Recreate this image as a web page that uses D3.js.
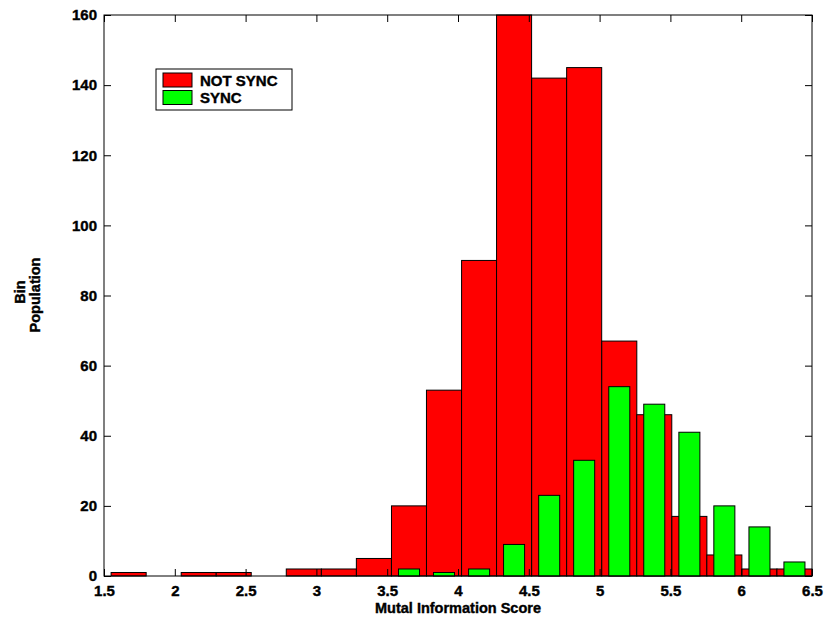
<!DOCTYPE html>
<html>
<head>
<meta charset="utf-8">
<script src="https://cdn.jsdelivr.net/npm/d3@7"></script>
<style>
  body { margin: 0; background: #fff; }
  text { font-family: "Liberation Sans", Arial, sans-serif; font-weight: bold; stroke: #000; stroke-width: 0.4px; }
</style>
</head>
<body>
<div id="chart"></div>
<script>
// bin centres of the histogram (20 bins, width 0.2475)
const binCenters = [1.674, 1.921, 2.169, 2.416, 2.664, 2.911, 3.159, 3.406, 3.654, 3.901,
                    4.149, 4.396, 4.644, 4.891, 5.139, 5.386, 5.634, 5.881, 6.129, 6.376];
const binWidth = 0.2475;
const notSync = [1, 0, 1, 1, 0, 2, 2, 5, 20, 53, 90, 160, 142, 145, 67, 46, 17, 6, 2, 2];
const sync    = [0, 0, 0, 0, 0, 0, 0, 0, 2, 1, 2, 9, 23, 33, 54, 49, 41, 20, 14, 4];
const xTicks = [1.5, 2, 2.5, 3, 3.5, 4, 4.5, 5, 5.5, 6, 6.5];
const yTicks = [0, 20, 40, 60, 80, 100, 120, 140, 160];
const legendLabels = ['NOT SYNC', 'SYNC'];
const colors = ['#ff0000', '#00ff00'];

const width = 824;
const height = 621;
const plotLeft = 104, plotRight = 812, plotTop = 15, plotBottom = 576;

const svg = d3.select('#chart')
    .append('svg')
    .attr('width', width)
    .attr('height', height);

const x = d3.scaleLinear().domain([1.5, 6.5]).range([plotLeft, plotRight]);
const y = d3.scaleLinear().domain([0, 160]).range([plotBottom, plotTop]);

// red bars fill the whole bin
svg.append('g').selectAll('rect')
    .data(notSync)
    .join('rect')
    .attr('x', (d, i) => x(binCenters[i] - binWidth / 2))
    .attr('width', x(binWidth) - x(0))
    .attr('y', d => y(d))
    .attr('height', d => y(0) - y(d))
    .attr('fill', colors[0])
    .attr('stroke', '#000')
    .attr('stroke-width', 1);

// green bars are narrower, drawn on top
const greenW = binWidth * 0.6;
svg.append('g').selectAll('rect')
    .data(sync)
    .join('rect')
    .attr('x', (d, i) => x(binCenters[i] - greenW / 2))
    .attr('width', x(greenW) - x(0))
    .attr('y', d => y(d))
    .attr('height', d => y(0) - y(d))
    .attr('fill', colors[1])
    .attr('stroke', '#000')
    .attr('stroke-width', 1)
    .attr('display', d => d > 0 ? null : 'none');

// axes, ticks pointing inward on all four sides
svg.append('g')
    .attr('transform', `translate(0,${plotBottom})`)
    .call(d3.axisBottom(x).tickValues(xTicks).tickFormat(d3.format('')).tickSizeInner(-7).tickSizeOuter(0).tickPadding(9.5));
svg.append('g')
    .attr('transform', `translate(0,${plotTop})`)
    .call(d3.axisTop(x).tickValues(xTicks).tickFormat('').tickSizeInner(-7).tickSizeOuter(0));
svg.append('g')
    .attr('transform', `translate(${plotLeft},0)`)
    .call(d3.axisLeft(y).tickValues(yTicks).tickSizeInner(-7).tickSizeOuter(0).tickPadding(7));
svg.append('g')
    .attr('transform', `translate(${plotRight},0)`)
    .call(d3.axisRight(y).tickValues(yTicks).tickFormat('').tickSizeInner(-7).tickSizeOuter(0));

svg.selectAll('.domain').remove();
svg.selectAll('.tick line').attr('stroke', '#000');
svg.selectAll('.tick text')
    .attr('fill', '#000')
    .style('font-size', '15px')
    .style('font-family', '"Liberation Sans", Arial, sans-serif')
    .style('font-weight', 'bold');

svg.append('rect')
    .attr('x', plotLeft).attr('y', plotTop)
    .attr('width', plotRight - plotLeft).attr('height', plotBottom - plotTop)
    .attr('fill', 'none')
    .attr('stroke', '#000')
    .attr('stroke-width', 1);

// axis labels
svg.append('text')
    .attr('x', 458).attr('y', 613)
    .attr('text-anchor', 'middle')
    .style('font-size', '14.5px')
    .text('Mutal Information Score');

svg.append('text')
    .attr('transform', 'translate(25,292) rotate(-90)')
    .attr('text-anchor', 'middle')
    .style('font-size', '14.5px')
    .text('Bin');
svg.append('text')
    .attr('transform', 'translate(40,295) rotate(-90)')
    .attr('text-anchor', 'middle')
    .style('font-size', '14.5px')
    .text('Population');

// legend
const legend = svg.append('g');
legend.append('rect')
    .attr('x', 156).attr('y', 69)
    .attr('width', 136).attr('height', 41)
    .attr('fill', '#fff')
    .attr('stroke', '#000');
legendLabels.forEach((label, i) => {
    legend.append('rect')
        .attr('x', 163).attr('y', 73 + i * 17.5)
        .attr('width', 29).attr('height', 14)
        .attr('fill', colors[i])
        .attr('stroke', '#000');
    legend.append('text')
        .attr('x', 200).attr('y', 86 + i * 17)
        .style('font-size', '15px')
        .text(label);
});
</script>
</body>
</html>
